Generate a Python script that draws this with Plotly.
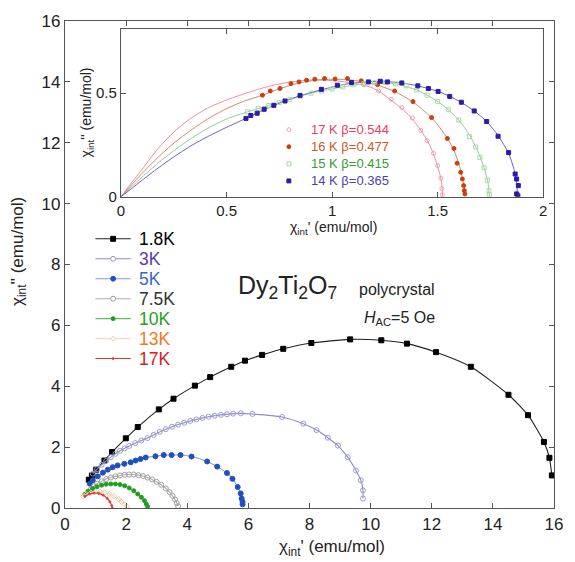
import plotly.graph_objects as go

# ---------------- main panel data ----------------
k18_x = [0.78, 0.88, 1.02, 1.29, 1.54, 1.99, 2.38, 3.07, 3.55, 4.25, 4.75, 5.44, 5.89, 6.45, 7.14, 8.06, 9.33, 10.35, 11.19, 12.14, 13.28, 14.51, 15.15, 15.67, 15.85, 15.93]
k18_y = [0.93, 1.07, 1.26, 1.56, 1.84, 2.29, 2.66, 3.24, 3.59, 4.02, 4.30, 4.64, 4.84, 5.03, 5.23, 5.42, 5.54, 5.51, 5.40, 5.12, 4.64, 3.72, 3.05, 2.17, 1.65, 1.07]

k3_x = [0.91, 1.05, 1.2, 1.35, 1.5, 1.65, 1.8, 1.95, 2.1, 2.3, 2.5, 2.7, 2.9, 3.1, 3.3, 3.5, 3.7, 3.9, 4.1, 4.3, 4.5, 4.7, 4.9, 5.1, 5.3, 5.5, 5.75, 6.13, 7.10, 7.80, 8.23, 8.60, 8.93, 9.25, 9.52, 9.68, 9.75, 9.75]
k3_y = [1.13, 1.28, 1.42, 1.55, 1.67, 1.78, 1.88, 1.96, 2.04, 2.13, 2.22, 2.30, 2.40, 2.50, 2.59, 2.67, 2.74, 2.80, 2.86, 2.91, 2.96, 3.00, 3.03, 3.06, 3.08, 3.10, 3.11, 3.09, 2.99, 2.77, 2.56, 2.31, 2.05, 1.67, 1.23, 0.91, 0.58, 0.31]

k5_x = [0.81, 0.91, 1.07, 1.24, 1.40, 1.56, 1.72, 1.94, 2.15, 2.31, 2.47, 2.64, 2.96, 3.23, 3.49, 3.78, 4.14, 4.65, 4.98, 5.30, 5.48, 5.65, 5.75, 5.78, 5.81, 5.81]
k5_y = [0.80, 0.91, 1.04, 1.16, 1.26, 1.34, 1.40, 1.45, 1.50, 1.56, 1.61, 1.66, 1.70, 1.74, 1.74, 1.74, 1.69, 1.53, 1.36, 1.15, 0.96, 0.69, 0.48, 0.31, 0.20, 0.12]

k75_x = [0.85, 0.95, 1.05, 1.2, 1.35, 1.5, 1.65, 1.8, 1.95, 2.1, 2.25, 2.4, 2.55, 2.7, 2.85, 3.0, 3.15, 3.3, 3.42, 3.52, 3.6, 3.66, 3.70]
k75_y = [0.62, 0.72, 0.80, 0.88, 0.95, 1.00, 1.04, 1.07, 1.09, 1.10, 1.10, 1.08, 1.05, 1.00, 0.94, 0.86, 0.76, 0.64, 0.52, 0.40, 0.28, 0.16, 0.06]

k10_x = [0.65, 0.75, 0.9, 1.05, 1.2, 1.35, 1.5, 1.65, 1.8, 1.95, 2.1, 2.25, 2.38, 2.5, 2.6, 2.66, 2.70]
k10_y = [0.45, 0.55, 0.64, 0.70, 0.75, 0.78, 0.79, 0.79, 0.77, 0.73, 0.66, 0.57, 0.46, 0.35, 0.24, 0.13, 0.05]

k13_x = [0.6, 0.7, 0.85, 1.0, 1.15, 1.3, 1.45, 1.6, 1.75, 1.85, 1.95, 2.03]
k13_y = [0.38, 0.45, 0.50, 0.53, 0.53, 0.51, 0.46, 0.38, 0.29, 0.20, 0.12, 0.05]

k17_x = [0.65, 0.8, 0.95, 1.1, 1.25, 1.38, 1.47, 1.53, 1.55]
k17_y = [0.38, 0.46, 0.49, 0.48, 0.42, 0.32, 0.20, 0.08, 0.0]

main_labels = ["1.8K", "3K", "5K", "7.5K", "10K", "13K", "17K"]

# ---------------- inset data ----------------
i17_x = [1.15, 1.22, 1.28, 1.33, 1.38, 1.42, 1.45, 1.48, 1.50, 1.515, 1.52, 1.522]
i17_y = [0.54, 0.51, 0.47, 0.43, 0.38, 0.32, 0.27, 0.21, 0.15, 0.09, 0.04, 0.01]
i17_fx = [0, 0.05, 0.1, 0.175, 0.254, 0.33, 0.409, 0.49, 0.564, 0.64, 0.72, 0.8, 0.874, 0.95, 1.03, 1.11, 1.185, 1.235, 1.278, 1.33, 1.37, 1.41, 1.448, 1.475, 1.494, 1.51, 1.518, 1.522, 1.523]
i17_fy = [0, 0.068, 0.133, 0.232, 0.316, 0.378, 0.427, 0.463, 0.490, 0.515, 0.538, 0.553, 0.562, 0.563, 0.558, 0.546, 0.528, 0.50, 0.467, 0.425, 0.387, 0.335, 0.276, 0.22, 0.165, 0.11, 0.07, 0.03, 0.0]

i16_x = [0.670, 0.707, 0.753, 0.805, 0.843, 0.879, 0.918, 0.964, 1.014, 1.073, 1.138, 1.215, 1.296, 1.383, 1.471, 1.546, 1.577, 1.592, 1.609, 1.617, 1.623, 1.626, 1.629]
i16_y = [0.490, 0.510, 0.522, 0.546, 0.554, 0.562, 0.567, 0.570, 0.568, 0.570, 0.559, 0.541, 0.510, 0.459, 0.382, 0.281, 0.233, 0.162, 0.118, 0.086, 0.054, 0.030, 0.014]
i16_fx = [0, 0.05, 0.1, 0.175, 0.254, 0.33, 0.41, 0.49, 0.58, 0.67, 0.753, 0.843, 0.918, 1.0, 1.073, 1.138, 1.215, 1.296, 1.383, 1.471, 1.52, 1.546, 1.577, 1.60, 1.615, 1.625, 1.63]
i16_fy = [0, 0.058, 0.113, 0.19, 0.262, 0.32, 0.375, 0.42, 0.46, 0.49, 0.522, 0.548, 0.562, 0.567, 0.565, 0.556, 0.538, 0.508, 0.457, 0.382, 0.32, 0.281, 0.225, 0.16, 0.10, 0.05, 0.0]

i15_x = [0.6, 0.65, 0.7, 0.75, 0.8, 0.85, 0.9, 0.95, 1.0, 1.05, 1.1, 1.15, 1.2, 1.25, 1.3, 1.35, 1.4, 1.45, 1.5, 1.55, 1.6, 1.65, 1.68, 1.70, 1.72, 1.735, 1.743, 1.745]
i15_y = [0.41, 0.425, 0.44, 0.455, 0.47, 0.485, 0.50, 0.51, 0.52, 0.53, 0.54, 0.545, 0.55, 0.55, 0.545, 0.535, 0.515, 0.49, 0.46, 0.42, 0.37, 0.29, 0.24, 0.19, 0.14, 0.08, 0.03, 0.01]
i15_fx = [0, 0.05, 0.1, 0.175, 0.254, 0.33, 0.41, 0.5, 0.6, 0.7, 0.8, 0.9, 1.0, 1.1, 1.2, 1.3, 1.4, 1.45, 1.5, 1.55, 1.6, 1.65, 1.69, 1.72, 1.738, 1.745]
i15_fy = [0, 0.048, 0.095, 0.162, 0.225, 0.28, 0.33, 0.375, 0.41, 0.44, 0.47, 0.50, 0.52, 0.538, 0.548, 0.545, 0.515, 0.49, 0.46, 0.42, 0.37, 0.30, 0.22, 0.14, 0.07, 0.0]

i14_x = [0.592, 0.615, 0.645, 0.678, 0.724, 0.777, 0.848, 0.949, 1.025, 1.092, 1.172, 1.228, 1.262, 1.330, 1.406, 1.456, 1.502, 1.557, 1.612, 1.673, 1.732, 1.786, 1.836, 1.867, 1.874, 1.882, 1.874, 1.880]
i14_y = [0.378, 0.392, 0.403, 0.422, 0.441, 0.462, 0.489, 0.518, 0.538, 0.551, 0.554, 0.557, 0.554, 0.549, 0.535, 0.522, 0.508, 0.484, 0.456, 0.414, 0.363, 0.292, 0.213, 0.110, 0.086, 0.054, 0.014, 0.005]
i14_fx = [0, 0.05, 0.1, 0.175, 0.254, 0.33, 0.41, 0.5, 0.592, 0.678, 0.777, 0.848, 0.949, 1.025, 1.092, 1.172, 1.262, 1.33, 1.406, 1.502, 1.557, 1.612, 1.673, 1.732, 1.786, 1.836, 1.862, 1.875, 1.878]
i14_fy = [0, 0.04, 0.08, 0.138, 0.195, 0.245, 0.29, 0.335, 0.378, 0.42, 0.462, 0.487, 0.516, 0.535, 0.548, 0.555, 0.555, 0.549, 0.535, 0.508, 0.484, 0.455, 0.414, 0.363, 0.295, 0.21, 0.13, 0.06, 0.0]

inset_labels = ["17 K \u03b2=0.544", "16 K \u03b2=0.477", "15 K \u03b2=0.415", "14 K \u03b2=0.365"]

# ---------------- styles ----------------
# (line colour, marker colour, symbol, marker size, legend text colour)
main_styles = [
    ("#222222", "#000000", "square", 5, "#000000"),
    ("#8c8cc8", "#9a9ad0", "circle-open", 5, "#5a3aa8"),
    ("#7f9fe0", "#1f4fc0", "circle", 5, "#3a66c8"),
    ("#b0b0b0", "#a0a0a0", "circle-open", 5, "#333333"),
    ("#66bb66", "#20a020", "circle", 4, "#22a022"),
    ("#f5dcc4", "#f0c8a0", "diamond-open", 4, "#f07822"),
    ("#e03030", "#e04040", "circle", 2, "#d82020"),
]
inset_styles = [
    ("#ee8aa0", "#f0a0b0", "circle-open", 4, "#e8405c"),
    ("#d08868", "#c8400c", "circle", 4, "#c85a28"),
    ("#90cc90", "#a8d8a8", "square-open", 4, "#30a030"),
    ("#6a60c0", "#2a1ca8", "square", 4, "#5040b0"),
]

main_data = [(k18_x, k18_y), (k3_x, k3_y), (k5_x, k5_y), (k75_x, k75_y),
             (k10_x, k10_y), (k13_x, k13_y), (k17_x, k17_y)]
inset_data = [(i17_x, i17_y, i17_fx, i17_fy), (i16_x, i16_y, i16_fx, i16_fy),
              (i15_x, i15_y, i15_fx, i15_fy), (i14_x, i14_y, i14_fx, i14_fy)]

W, H = 575, 562
ML, MR, MT, MB = 65, 12, 15, 54
PW, PH = W - ML - MR, H - MT - MB


def px_x(px):
    return (px - ML) / PW


def px_y(py):
    return (H - MB - py) / PH


fig = go.Figure()
for (xs, ys), (lc, mc, sym, ms, tc), name in zip(main_data, main_styles, main_labels):
    fig.add_trace(go.Scatter(
        x=xs, y=ys, mode="lines+markers", line=dict(color=lc, width=1.1, shape="spline", smoothing=0.6),
        marker=dict(color=mc, symbol=sym, size=ms, line=dict(color=mc, width=1)),
        name=name, showlegend=False))

for (xs, ys, fx, fy), (lc, mc, sym, ms, tc), name in zip(inset_data, inset_styles, inset_labels):
    fig.add_trace(go.Scatter(
        x=fx, y=fy, mode="lines", line=dict(color=lc, width=1, shape="spline", smoothing=0.6),
        xaxis="x2", yaxis="y2", showlegend=False, hoverinfo="skip", name=name + " fit"))
for (xs, ys, fx, fy), (lc, mc, sym, ms, tc), name in zip(inset_data, inset_styles, inset_labels):
    fig.add_trace(go.Scatter(
        x=xs, y=ys, mode="markers", marker=dict(color=mc, symbol=sym, size=ms, line=dict(color=mc, width=1)),
        xaxis="x2", yaxis="y2", name=name, showlegend=False))

FONT = "Liberation Sans, Arial, sans-serif"
axis_common = dict(showline=True, linecolor="#555555", linewidth=1.2, mirror="ticks",
                   ticks="inside", ticklen=5, tickcolor="#555555", showgrid=False, zeroline=False,
                   tickfont=dict(size=17, color="#222222", family=FONT))
inset_axis = {**axis_common, "tickfont": dict(size=15, color="#222222", family=FONT)}

fig.update_layout(
    width=W, height=H,
    margin=dict(l=ML, r=MR, t=MT, b=MB),
    paper_bgcolor="white", plot_bgcolor="white",
    font=dict(family=FONT, color="#222222"),
    xaxis=dict(range=[0, 16], dtick=2, **axis_common),
    yaxis=dict(range=[0, 16], dtick=2, **axis_common),
    xaxis2=dict(domain=[0.1145, 0.978], anchor="y2", range=[0, 2],
                tickvals=[0, 0.5, 1, 1.5, 2], ticktext=["0", "0.5", "1", "1.5", "2"], **inset_axis),
    yaxis2=dict(domain=[0.639, 0.984], anchor="x2", range=[0, 0.81],
                tickvals=[0, 0.5], ticktext=["0", "0.5"], **inset_axis),
    showlegend=False,
)

shapes = []
ann = []


def marker_shape(cx, cy, sym, size, color):
    r = size / 2.0
    x0, x1 = px_x(cx - r), px_x(cx + r)
    y0, y1 = px_y(cy + r), px_y(cy - r)
    filled = not sym.endswith("open")
    fill = color if filled else "white"
    base = sym.replace("-open", "")
    if base == "square":
        return dict(type="rect", xref="paper", yref="paper", x0=x0, x1=x1, y0=y0, y1=y1,
                    fillcolor=fill, line=dict(color=color, width=1))
    if base == "circle":
        return dict(type="circle", xref="paper", yref="paper", x0=x0, x1=x1, y0=y0, y1=y1,
                    fillcolor=fill, line=dict(color=color, width=1))
    path = (f"M {px_x(cx)} {px_y(cy - r - 0.5)} L {px_x(cx + r + 0.5)} {px_y(cy)} "
            f"L {px_x(cx)} {px_y(cy + r + 0.5)} L {px_x(cx - r - 0.5)} {px_y(cy)} Z")
    return dict(type="path", xref="paper", yref="paper", path=path,
                fillcolor=fill, line=dict(color=color, width=1))


# main legend (drawn by hand to match the compact spacing)
for i, ((lc, mc, sym, ms, tc), name) in enumerate(zip(main_styles, main_labels)):
    cy = 235.5 + i * 20.2
    shapes.append(dict(type="line", xref="paper", yref="paper", x0=px_x(96), x1=px_x(132),
                       y0=px_y(cy), y1=px_y(cy), line=dict(color=lc, width=1.1)))
    shapes.append(marker_shape(114, cy, sym, ms, mc))
    ann.append(dict(text=name, x=px_x(138), y=px_y(cy), xref="paper", yref="paper", showarrow=False,
                    xanchor="left", yanchor="middle", font=dict(size=17.5, color=tc)))

# inset legend
for i, ((lc, mc, sym, ms, tc), name) in enumerate(zip(inset_styles, inset_labels)):
    cy = 125 + i * 17.3
    shapes.append(marker_shape(293, cy, sym, ms, mc))
    ann.append(dict(text=name, x=px_x(313), y=px_y(cy), xref="paper", yref="paper", showarrow=False,
                    xanchor="left", yanchor="middle", font=dict(size=13, color=tc)))

ann += [
    dict(text="\u03c7<sub>int</sub>' (emu/mol)", x=px_x(337), y=px_y(548), xref="paper", yref="paper",
         showarrow=False, font=dict(size=17), xanchor="center", yanchor="middle"),
    dict(text="\u03c7<sub>int</sub>'' (emu/mol)", x=px_x(18), y=px_y(248), xref="paper", yref="paper",
         showarrow=False, font=dict(size=17), textangle=-90, xanchor="center", yanchor="middle"),
    dict(text="\u03c7<sub>int</sub>' (emu/mol)", x=px_x(338), y=px_y(225), xref="paper", yref="paper",
         showarrow=False, font=dict(size=14), xanchor="center", yanchor="middle"),
    dict(text="\u03c7<sub>int</sub>'' (emu/mol)", x=px_x(87), y=px_y(108), xref="paper", yref="paper",
         showarrow=False, font=dict(size=14), textangle=-90, xanchor="center", yanchor="middle"),
    dict(text="Dy<sub>2</sub>Ti<sub>2</sub>O<sub>7</sub>", x=px_x(292), y=px_y(284), xref="paper", yref="paper",
         showarrow=False, font=dict(size=25), xanchor="center", yanchor="middle"),
    dict(text="polycrystal", x=px_x(403), y=px_y(287), xref="paper", yref="paper",
         showarrow=False, font=dict(size=16), xanchor="center", yanchor="middle"),
    dict(text="<i>H</i><sub>AC</sub>=5 Oe", x=px_x(406), y=px_y(316), xref="paper", yref="paper",
         showarrow=False, font=dict(size=16), xanchor="center", yanchor="middle"),
]
fig.update_layout(annotations=ann, shapes=shapes)

fig.write_html("out.html")
